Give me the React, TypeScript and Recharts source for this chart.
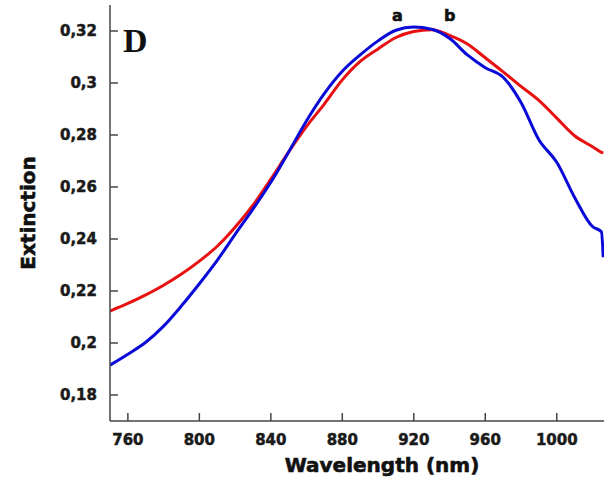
import {
  Line,
  LineChart,
  XAxis,
  YAxis,
} from 'recharts'

const wavelength = [
  750, 760, 770, 780, 790, 800, 810, 820, 830, 840, 850, 860, 870, 880, 890,
  900, 910, 920, 930, 940, 950, 960, 970, 980, 990, 1000, 1010, 1020, 1025,
  1026,
]

// curve b (red)
const extinctionB = [
  0.2123, 0.2152, 0.2185, 0.2222, 0.2265, 0.2315, 0.2372, 0.2445, 0.253,
  0.263, 0.2735, 0.2833, 0.292, 0.3012, 0.3083, 0.3131, 0.3175, 0.3198,
  0.3205, 0.3183, 0.315, 0.3097, 0.3043, 0.2987, 0.2933, 0.2865, 0.2797,
  0.2755, 0.2733, 0.273,
]

// curve a (blue)
const extinctionA = [
  0.1915, 0.1957, 0.2003, 0.2065, 0.2143, 0.2228, 0.2318, 0.2418, 0.2515,
  0.2618, 0.2735, 0.2855, 0.296, 0.3045, 0.3108, 0.3162, 0.3203, 0.3215,
  0.3207, 0.3172, 0.3108, 0.3059, 0.3022, 0.2925, 0.2782, 0.2695, 0.256,
  0.2448, 0.2428, 0.233,
]

const xTicks = [760, 800, 840, 880, 920, 960, 1000]
const yTicks = [0.18, 0.2, 0.22, 0.24, 0.26, 0.28, 0.3, 0.32]

const data = wavelength.map((w, i) => ({
  w,
  a: extinctionA[i],
  b: extinctionB[i],
}))

const font = 'DejaVu Sans'
const tickStyle = {
  fontFamily: font,
  fontWeight: 700,
  fontSize: 15,
  fill: '#1a1a1a',
  stroke: '#1a1a1a',
  strokeWidth: 0.5,
}
const axisLine = { stroke: '#444', strokeWidth: 1.5 }

const heavy = {
  position: 'absolute' as const,
  fontFamily: font,
  fontWeight: 700,
  lineHeight: 1,
  whiteSpace: 'nowrap' as const,
  color: '#111',
  WebkitTextStroke: '0.6px #111',
}

export default function App() {
  return (
    <div
      style={{
        position: 'absolute',
        left: 0,
        top: 0,
        width: 604,
        height: 484,
        overflow: 'hidden',
        background: '#fff',
      }}
    >
      <LineChart
        width={606}
        height={484}
        data={data}
        margin={{ top: 5, right: 0, left: 0, bottom: 0 }}
      >
        <XAxis
          xAxisId="bottom"
          dataKey="w"
          type="number"
          domain={[750, 1027]}
          ticks={xTicks}
          allowDataOverflow
          height={63}
          tickSize={-8}
          tickMargin={21}
          tick={tickStyle}
          axisLine={axisLine}
          tickLine={axisLine}
        />
        <XAxis
          xAxisId="top"
          orientation="top"
          dataKey="w"
          type="number"
          domain={[750, 1027]}
          ticks={xTicks}
          allowDataOverflow
          height={0}
          tickSize={-8}
          tick={false}
          axisLine={axisLine}
          tickLine={axisLine}
        />
        <YAxis
          yAxisId="left"
          type="number"
          domain={[0.17, 0.33]}
          ticks={yTicks}
          allowDataOverflow
          width={110}
          tickSize={-8}
          tickMargin={21}
          tick={tickStyle}
          tickFormatter={(v) => String(v).replace('.', ',')}
          axisLine={axisLine}
          tickLine={axisLine}
        />
        <YAxis
          yAxisId="right"
          orientation="right"
          type="number"
          domain={[0.17, 0.33]}
          ticks={yTicks}
          allowDataOverflow
          width={1}
          tickSize={-8}
          tick={false}
          axisLine={axisLine}
          tickLine={axisLine}
        />
        <Line
          xAxisId="bottom"
          yAxisId="left"
          type="monotone"
          dataKey="b"
          stroke="#e81010"
          strokeWidth={3}
          dot={false}
          isAnimationActive={false}
        />
        <Line
          xAxisId="bottom"
          yAxisId="left"
          type="monotone"
          dataKey="a"
          stroke="#0a0ad8"
          strokeWidth={3}
          dot={false}
          isAnimationActive={false}
        />
      </LineChart>

      <div
        style={{
          position: 'absolute',
          left: 123,
          top: 24,
          fontFamily: 'Liberation Serif',
          fontWeight: 700,
          fontSize: 34,
          lineHeight: 1,
          color: '#111',
        }}
      >
        D
      </div>
      <div style={{ ...heavy, left: 392, top: 8, fontSize: 16 }}>a</div>
      <div style={{ ...heavy, left: 444, top: 8, fontSize: 16 }}>b</div>
      <div
        style={{
          ...heavy,
          left: 382,
          top: 465,
          fontSize: 20,
          transform: 'translate(-50%, -50%)',
        }}
      >
        Wavelength (nm)
      </div>
      <div
        style={{
          ...heavy,
          left: 28,
          top: 213,
          fontSize: 20,
          transform: 'translate(-50%, -50%) rotate(-90deg)',
        }}
      >
        Extinction
      </div>
    </div>
  )
}
